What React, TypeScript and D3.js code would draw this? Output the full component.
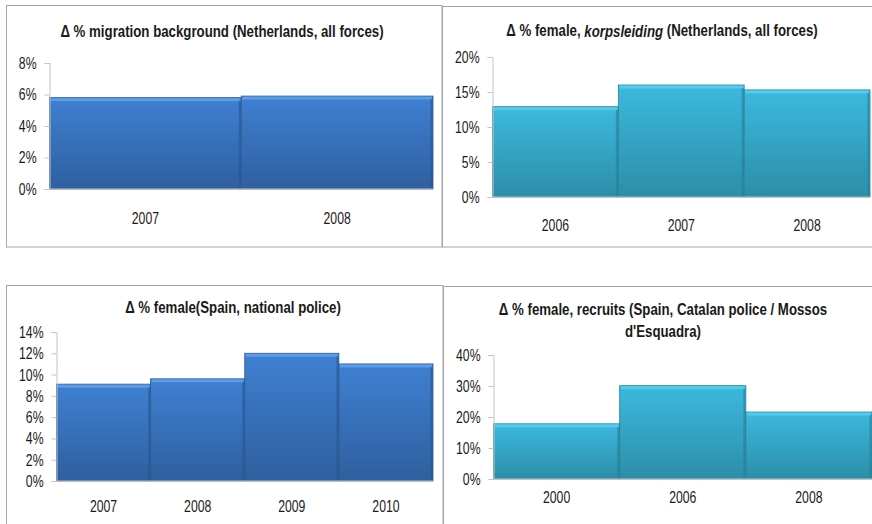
import React, { useEffect, useRef } from "react";
import * as d3 from "d3";

// panel 1: migration background, Netherlands
const nlMigYears = ["2007", "2008"];
const nlMigValues = [5.8, 5.9];
const nlMigTicks = [0, 2, 4, 6, 8];

// panel 2: female korpsleiding, Netherlands
const nlFemYears = ["2006", "2007", "2008"];
const nlFemValues = [12.9, 16.0, 15.3];
const nlFemTicks = [0, 5, 10, 15, 20];

// panel 3: female, Spain national police
const esNatYears = ["2007", "2008", "2009", "2010"];
const esNatValues = [9.1, 9.6, 12.0, 11.0];
const esNatTicks = [0, 2, 4, 6, 8, 10, 12, 14];

// panel 4: female recruits, Mossos d'Esquadra
const esCatYears = ["2000", "2006", "2008"];
const esCatValues = [17.8, 30.1, 21.6];
const esCatTicks = [0, 10, 20, 30, 40];

const FONT = "'Liberation Sans', Arial, sans-serif";
const SQUEEZE = 0.72; // source uses narrow-looking text
const TITLE_SQUEEZE = 0.78;

const BLUE = { top: "#5c9be6", mid: "#3f80d2", bot: "#2f5f9f", edge: "#2a5690" };
const CYAN = { top: "#52cbec", mid: "#3cb9de", bot: "#2c8ea8", edge: "#267f96" };

type PanelProps = {
  frame: [number, number, number, number];
  axisX: number;
  right: number;
  yTop: number;
  yZero: number;
  labelY: number;
  titleX: number;
  titleY: number;
  title: React.ReactNode[];
  cats: string[];
  values: number[];
  ticks: number[];
  pal: typeof BLUE;
  id: string;
};

const Panel = (p: PanelProps) => {
  const ref = useRef<SVGGElement>(null);

  useEffect(() => {
    const g = d3.select(ref.current);
    g.selectAll("*").remove();

    const x = d3.scaleBand().domain(p.cats).range([p.axisX, p.right]).padding(0);
    const y = d3
      .scaleLinear()
      .domain([0, d3.max(p.ticks) as number])
      .range([p.yZero, p.yTop]);

    const grad = g.append("defs").append("linearGradient")
      .attr("id", "g" + p.id).attr("x1", 0).attr("x2", 0).attr("y1", 0).attr("y2", 1);
    grad.append("stop").attr("offset", "0%").attr("stop-color", p.pal.mid);
    grad.append("stop").attr("offset", "100%").attr("stop-color", p.pal.bot);

    const bars = g.selectAll(".bar").data(p.values).enter().append("g");
    bars.append("rect")
      .attr("x", (d, i) => x(p.cats[i]) as number)
      .attr("y", (d) => y(d))
      .attr("width", x.bandwidth())
      .attr("height", (d) => y(0) - y(d))
      .attr("fill", `url(#g${p.id})`)
      .attr("stroke", p.pal.edge)
      .attr("stroke-width", 0.8);
    // bevel highlight on top
    bars.append("rect")
      .attr("x", (d, i) => (x(p.cats[i]) as number) + 1)
      .attr("y", (d) => y(d) + 0.5)
      .attr("width", x.bandwidth() - 2)
      .attr("height", 3)
      .attr("fill", p.pal.top);
    bars.append("line")
      .attr("x1", (d, i) => (x(p.cats[i]) as number) + x.bandwidth() - 1.5)
      .attr("x2", (d, i) => (x(p.cats[i]) as number) + x.bandwidth() - 1.5)
      .attr("y1", (d) => y(d) + 3)
      .attr("y2", y(0))
      .attr("stroke", p.pal.edge)
      .attr("stroke-width", 2)
      .attr("opacity", 0.6);

    const axis = g.append("g")
      .attr("transform", `translate(${p.axisX},0)`)
      .call(d3.axisLeft(y).tickValues(p.ticks).tickSize(5).tickFormat((d) => `${d}%`));
    axis.select(".domain").attr("stroke", "#c4c4c4");
    axis.selectAll(".tick line").attr("stroke", "#c4c4c4");
    axis.selectAll("text")
      .attr("x", -13 / SQUEEZE)
      .attr("transform", `scale(${SQUEEZE},1)`)
      .attr("fill", "#1a1a1a")
      .attr("font-family", FONT)
      .attr("font-size", 17);

    g.append("line")
      .attr("x1", p.axisX).attr("x2", p.right)
      .attr("y1", y(0)).attr("y2", y(0))
      .attr("stroke", "#c4c4c4");

    g.selectAll(".cat").data(p.cats).enter().append("text")
      .attr("transform", (d) => `translate(${(x(d) as number) + x.bandwidth() / 2},${p.labelY}) scale(${SQUEEZE},1)`)
      .attr("text-anchor", "middle")
      .attr("dominant-baseline", "central")
      .attr("font-family", FONT)
      .attr("font-size", 17)
      .attr("fill", "#1a1a1a")
      .text((d) => d);
  }, [p]);

  const [fx, fy, fw, fh] = p.frame;
  return (
    <g>
      <rect x={fx} y={fy} width={fw} height={fh} fill="white" stroke="#a6a6a6" strokeWidth={1} />
      <g ref={ref}></g>
      {p.title.map((t, i) => (
        <text
          key={i}
          transform={`translate(${p.titleX},${p.titleY + i * 22}) scale(${TITLE_SQUEEZE},1)`}
          textAnchor="middle"
          dominantBaseline="central"
          fontFamily={FONT}
          fontWeight="bold"
          fontSize={17}
          fill="#1a1a1a"
        >
          {t}
        </text>
      ))}
    </g>
  );
};

export default function App() {
  return (
    <svg width={872} height={524} style={{ position: "absolute", left: 0, top: 0, background: "white" }}>
      <Panel
        id="p1"
        frame={[6.5, 5.5, 435.5, 241.5]}
        axisX={49.5}
        right={433}
        yTop={63}
        yZero={189}
        labelY={218}
        titleX={222}
        titleY={31}
        title={["Δ % migration background (Netherlands, all forces)"]}
        cats={nlMigYears}
        values={nlMigValues}
        ticks={nlMigTicks}
        pal={BLUE}
      />
      <Panel
        id="p2"
        frame={[442.5, 6.5, 440, 240.5]}
        axisX={492.5}
        right={870}
        yTop={57}
        yZero={197}
        labelY={225}
        titleX={662}
        titleY={30}
        title={[
          <>
            Δ % female, <tspan fontStyle="italic">korpsleiding</tspan> (Netherlands, all forces)
          </>,
        ]}
        cats={nlFemYears}
        values={nlFemValues}
        ticks={nlFemTicks}
        pal={CYAN}
      />
      <Panel
        id="p3"
        frame={[6.5, 285.5, 436.5, 250]}
        axisX={56.5}
        right={433}
        yTop={332}
        yZero={481}
        labelY={506}
        titleX={233}
        titleY={307}
        title={["Δ % female(Spain, national police)"]}
        cats={esNatYears}
        values={esNatValues}
        ticks={esNatTicks}
        pal={BLUE}
      />
      <Panel
        id="p4"
        frame={[443.5, 286.5, 440, 250]}
        axisX={493.5}
        right={872}
        yTop={355}
        yZero={479}
        labelY={497}
        titleX={663}
        titleY={309}
        title={["Δ % female, recruits (Spain, Catalan police / Mossos", "d'Esquadra)"]}
        cats={esCatYears}
        values={esCatValues}
        ticks={esCatTicks}
        pal={CYAN}
      />
    </svg>
  );
}
